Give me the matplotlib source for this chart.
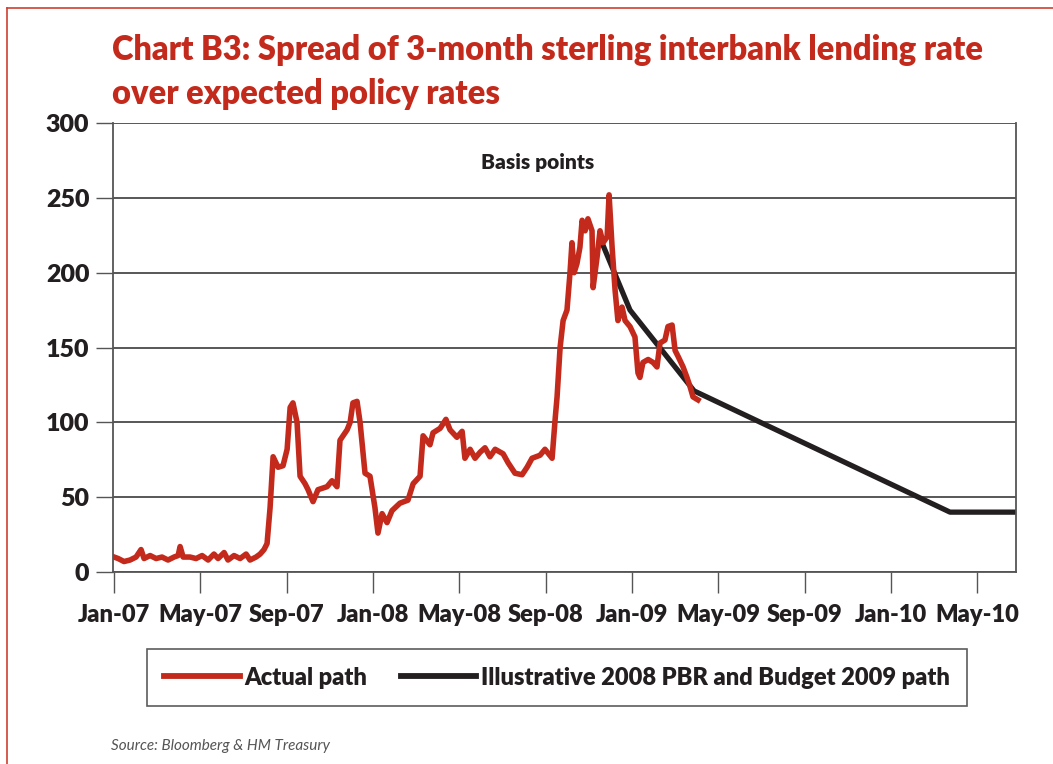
import matplotlib.pyplot as plt
from matplotlib.lines import Line2D

# x positions are months since Jan-07, values in basis points
actual_months = [0.0, 0.19, 0.46, 0.74, 1.02, 1.25, 1.39, 1.67, 1.95, 2.22, 2.50, 2.78, 2.97, 3.06,
                 3.20, 3.52, 3.80, 4.08, 4.36, 4.63, 4.82, 5.10, 5.28, 5.56, 5.84, 6.12, 6.30, 6.58,
                 6.77, 6.95, 7.09, 7.23, 7.37, 7.60, 7.83, 8.02, 8.16, 8.29, 8.48, 8.62, 8.85, 8.99,
                 9.22, 9.45, 9.87, 10.10, 10.33, 10.47, 10.80, 10.94, 11.07, 11.26, 11.40, 11.63,
                 11.86, 12.09, 12.23, 12.42, 12.65, 12.88, 13.25, 13.62, 13.86, 14.18, 14.32, 14.64,
                 14.78, 15.11, 15.38, 15.57, 15.89, 16.13, 16.26, 16.50, 16.73, 16.96, 17.19, 17.42,
                 17.66, 18.03, 18.26, 18.58, 18.91, 19.14, 19.37, 19.74, 19.97, 20.30, 20.44, 20.53,
                 20.67, 20.81, 20.99, 21.13, 21.22, 21.32, 21.45, 21.59, 21.69, 21.83, 21.96, 22.15,
                 22.20, 22.38, 22.52, 22.66, 22.85, 22.94, 23.08, 23.22, 23.35, 23.54, 23.68, 23.91,
                 24.14, 24.28, 24.37, 24.51, 24.75, 24.98, 25.16, 25.30, 25.53, 25.67, 25.86, 26.00,
                 26.14, 26.37, 26.55, 26.69, 26.83, 27.06]
actual_bp = [10, 9, 7, 8, 10, 15, 9, 11, 9, 10, 8, 10, 11, 17,
             10, 10, 9, 11, 8, 12, 9, 13, 8, 11, 9, 12, 8, 10,
             12, 15, 19, 43, 77, 70, 71, 82, 110, 113, 100, 64, 59, 55,
             47, 55, 57, 61, 57, 88, 95, 100, 113, 114, 100, 66,
             64, 43, 26, 39, 33, 41, 46, 48, 59, 64, 91, 85,
             93, 96, 102, 95, 90, 94, 76, 82, 76, 80, 83, 77,
             82, 79, 73, 66, 65, 70, 76, 78, 82, 76, 102, 117,
             150, 168, 175, 200, 220, 200, 206, 217, 235, 228, 236, 228,
             190, 210, 228, 220, 224, 252, 217, 188, 168, 177, 168, 164,
             157, 133, 130, 140, 142, 140, 137, 153, 155, 164, 165, 148,
             144, 137, 130, 124, 117, 115]

path_months = [22.61, 23.91, 26.88, 38.74, 41.8]
path_bp = [220, 175, 121, 40, 40]

tick_months = [0, 4, 8, 12, 16, 20, 24, 28, 32, 36, 40]
tick_labels = ["Jan-07", "May-07", "Sep-07", "Jan-08", "May-08", "Sep-08",
               "Jan-09", "May-09", "Sep-09", "Jan-10", "May-10"]

red = "#C32A1C"
dark = "#231F20"
font = ["Lato", "DejaVu Sans"]

fig = plt.figure(figsize=(10.53, 7.64), dpi=100)
ax = fig.add_axes([0.1073, 0.2513, 0.8576, 0.5877])

ax.plot(path_months, path_bp, color=dark, lw=3.8, solid_capstyle="butt", zorder=2)
ax.plot(actual_months, actual_bp, color=red, lw=4.0, solid_joinstyle="round", zorder=3)

ax.set_xlim(-0.05, 41.8)
ax.set_ylim(0, 300)
ax.set_yticks(range(0, 301, 50))
ax.yaxis.grid(True, color="#4a4a4a", lw=1.3)
ax.set_axisbelow(True)
ax.set_xticks(tick_months)
ax.set_xticklabels(tick_labels)
ax.tick_params(axis="x", direction="out", length=15, width=1, color="#555555", pad=8)
ax.tick_params(axis="y", direction="out", length=12, width=1, color="#555555", pad=5)
for lab in ax.get_xticklabels() + ax.get_yticklabels():
    lab.set_family(font)
    lab.set_weight("heavy")
    lab.set_fontsize(17)
    lab.set_color(dark)
for lab in ax.get_yticklabels():
    lab.set_fontsize(18)
for s in ["left", "right", "bottom"]:
    ax.spines[s].set_color("#555555")
    ax.spines[s].set_linewidth(1.3)
ax.spines["top"].set_visible(False)

ax.text(0.47, 0.911, "Basis points", transform=ax.transAxes, ha="center", va="center",
        family=font, weight="heavy", fontsize=15, color=dark)

# title
fig.text(0.106, 0.935, "Chart B3: Spread of 3-month sterling interbank lending rate",
         family=font, weight="heavy", fontsize=23.5, color=red, va="center")
fig.text(0.106, 0.877, "over expected policy rates",
         family=font, weight="heavy", fontsize=23.5, color=red, va="center")

# legend
handles = [Line2D([], [], color=red, lw=4.2),
           Line2D([], [], color=dark, lw=4.2)]
leg = fig.legend(handles, ["Actual path", "Illustrative 2008 PBR and Budget 2009 path"],
                 loc="center", bbox_to_anchor=(0.529, 0.113), ncol=2, frameon=True,
                 fancybox=False, handlelength=3.2, handletextpad=0.2, columnspacing=1.4,
                 borderpad=0.75, prop={"family": font, "weight": "heavy", "size": 17})
leg.get_frame().set_edgecolor("#333333")
leg.get_frame().set_linewidth(1.2)
for t in leg.get_texts():
    t.set_color(dark)

fig.text(0.105, 0.018, "Source: Bloomberg & HM Treasury", family=font, style="italic",
         fontsize=11, color="#555555")

# red page frame
fig.add_artist(Line2D([0.0066, 1.0], [0.99, 0.99], color="#D04030", lw=1.2, transform=fig.transFigure))
fig.add_artist(Line2D([0.0066, 0.0066], [0.0, 0.99], color="#D04030", lw=1.2, transform=fig.transFigure))

fig.savefig("out.png", dpi=100)
